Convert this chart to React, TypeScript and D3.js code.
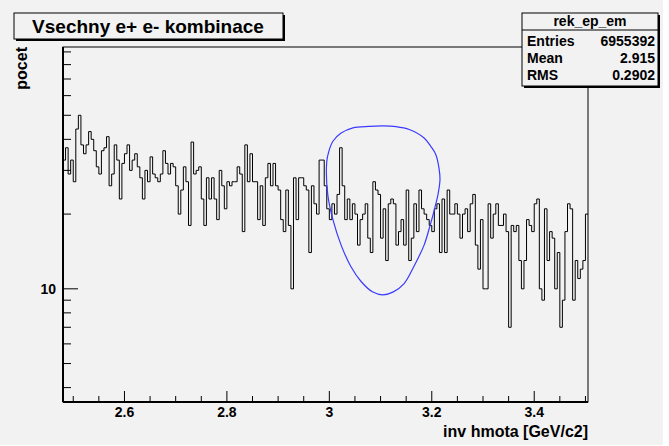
import React from 'react';
import * as d3 from 'd3';

// Histogram rek_ep_em: counts per 0.005 GeV bin, starting at 2.48
const binStart = 2.48;
const binWidth = 0.005;
const counts = [
  33, 37, 29, 33, 27, 44, 50, 38, 35, 38, 43, 40, 36, 31, 29, 36, 37, 41, 26, 29, 38, 33, 23, 32, 35, 38, 30, 33, 35, 31, 28, 23, 30, 27, 34,
  29, 28, 27, 29, 36, 32, 29, 32, 31, 26, 20, 25, 31, 27, 18, 39, 29, 30, 31, 23, 18, 28, 23, 28, 23, 19, 30, 26, 21, 27, 26, 27, 27, 31,
  29, 17, 38, 27, 35, 27, 27, 19, 26, 18, 28, 32, 26, 32, 26, 25, 19, 17, 25, 18, 10, 28, 19, 28, 28, 26, 25, 14, 26, 22, 20, 33, 33,
  26, 21, 19, 22, 20, 24, 37, 26, 19, 23, 19, 22, 20, 15, 19, 20, 22, 16, 14, 27, 25, 24, 16, 21, 13, 22, 23, 22, 15, 17, 19, 15, 25, 13, 16,
  22, 17, 25, 21, 20, 19, 18, 17, 21, 22, 14, 23, 14, 25, 20, 20, 22, 20, 16, 20, 21, 17, 22, 24, 15, 12, 19, 10, 10, 22, 16, 20, 22, 18,
  18, 20, 17, 7, 18, 17, 18, 13, 10, 13, 19, 18, 17, 22, 23, 10, 9, 21, 13, 17, 16, 10, 14, 7, 9, 17, 22, 21, 9, 13, 11, 12, 13, 20,
];

// graphical cut drawn over the peak (x in GeV, y in counts)
const cutX = [2.997, 2.995, 2.999, 3.007, 3.023, 3.046, 3.078, 3.104, 3.130, 3.156, 3.185, 3.198, 3.208, 3.214, 3.216, 3.212, 3.206, 3.197, 3.185, 3.165, 3.146, 3.124, 3.104, 3.085, 3.062, 3.042, 3.023, 3.007];
const cutY = [23.9, 32.6, 35.8, 39.3, 42.4, 44.5, 45.1, 45.3, 45.0, 43.8, 40.5, 37.5, 34.7, 30.7, 27.5, 23.9, 21.2, 18.1, 15.0, 12.3, 10.5, 9.7, 9.46, 9.7, 10.7, 12.3, 15.0, 19.0];

const xLabels = [2.6, 2.8, 3.0, 3.2, 3.4];
const statsRows = [
  ['Entries', '6955392'],
  ['Mean', '2.915'],
  ['RMS', '0.2902'],
];

const W = 669;
const H = 446;
const bg = '#f2f2f2';
const font = "'Liberation Sans', Arial, Helvetica, sans-serif";

export default function App() {
  const left = 63, right = 588, top = 47, bottom = 402;
  const xMax = binStart + counts.length * binWidth;
  const x = d3.scaleLinear().domain([binStart, xMax]).range([left, right]);
  const y = d3.scaleLog().domain([3.5, 94.2]).range([bottom, top]);

  const pts: [number, number][] = counts.map((c, i) => [binStart + i * binWidth, c]);
  pts.push([xMax, counts[counts.length - 1]]);
  const step = d3
    .line<[number, number]>()
    .x((d) => x(d[0]))
    .y((d) => y(d[1]))
    .curve(d3.curveStepAfter)(pts);

  const cut = d3
    .line<number>()
    .x((_, i) => x(cutX[i]))
    .y((d) => y(d))
    .curve(d3.curveCatmullRomClosed)(cutY);

  // x ticks every 0.05, labelled every 0.2
  const xMinor = d3.range(2.5, 3.5001, 0.05);
  // log y ticks
  const yTicks = [4, 5, 6, 7, 8, 9, 10, 20, 30, 40, 50, 60, 70, 80, 90];

  return (
    <svg
      width={W}
      height={H}
      style={{ position: 'absolute', left: 0, top: 0, fontFamily: font }}
    >
      <rect x={0} y={0} width={W} height={H} fill="#fff" />
      <rect x={0} y={0} width={663} height={445} fill={bg} />

      <defs>
        <clipPath id="plot">
          <rect x={left} y={top} width={right - left} height={bottom - top} />
        </clipPath>
      </defs>

      {/* frame */}
      <rect x={left} y={top} width={right - left} height={bottom - top} fill={bg} stroke="#000" strokeWidth={1} />

      {/* histogram */}
      <path d={step || ''} fill="none" stroke="#000" strokeWidth={1} clipPath="url(#plot)" />

      {/* cut */}
      <path d={cut || ''} fill="none" stroke="#3a3aff" strokeWidth={1.2} />

      {/* axes */}
      <line x1={left} x2={left} y1={top} y2={bottom} stroke="#000" strokeWidth={2} />
      <line x1={left} x2={right} y1={bottom} y2={bottom} stroke="#000" strokeWidth={2} />

      {xMinor.map((v, i) => {
        const major = xLabels.some((l) => Math.abs(l - v) < 1e-6);
        return (
          <line key={i} x1={x(v)} x2={x(v)} y1={bottom} y2={bottom - (major ? 11 : 6)} stroke="#000" strokeWidth={1} />
        );
      })}
      {xLabels.map((v) => (
        <text key={v} x={x(v)} y={417} textAnchor="middle" fontSize={14} fontWeight="bold">
          {d3.format('~g')(v)}
        </text>
      ))}

      {yTicks.map((v) => (
        <line key={v} x1={left} x2={left + (v === 10 ? 15 : 8)} y1={y(v)} y2={y(v)} stroke="#000" strokeWidth={1} />
      ))}
      <text x={56} y={y(10) + 5} textAnchor="end" fontSize={14} fontWeight="bold">10</text>

      {/* axis titles */}
      <text x={588} y={437} textAnchor="end" fontSize={16} fontWeight="bold">inv hmota [GeV/c2]</text>
      <text transform={`translate(27,${top}) rotate(-90)`} textAnchor="end" fontSize={16} fontWeight="bold">pocet</text>

      {/* title box */}
      <rect x={16} y={15} width={269} height={26} fill="#000" />
      <rect x={14} y={13} width={269} height={26} fill={bg} stroke="#000" strokeWidth={1} />
      <text x={148} y={33} textAnchor="middle" fontSize={19} fontWeight="bold">Vsechny e+ e- kombinace</text>

      {/* stats box */}
      <rect x={524} y={15} width={136} height={73} fill="#000" />
      <rect x={522} y={13} width={136} height={73} fill={bg} stroke="#000" strokeWidth={1} />
      <line x1={522} x2={658} y1={30} y2={30} stroke="#000" strokeWidth={1} />
      <text x={590} y={26} textAnchor="middle" fontSize={14} fontWeight="bold">rek_ep_em</text>
      {statsRows.map((r, i) => (
        <g key={r[0]} fontSize={14} fontWeight="bold">
          <text x={527} y={46 + i * 17}>{r[0]}</text>
          <text x={655} y={46 + i * 17} textAnchor="end">{r[1]}</text>
        </g>
      ))}
    </svg>
  );
}
